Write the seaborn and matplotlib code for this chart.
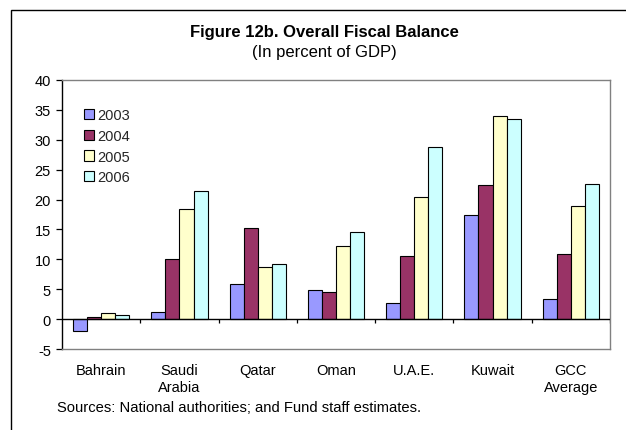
import matplotlib
matplotlib.use("Agg")
import matplotlib.pyplot as plt
from matplotlib.patches import Rectangle
import seaborn as sns
import pandas as pd

# Overall fiscal balance, percent of GDP
countries = ["Bahrain", "Saudi\nArabia", "Qatar", "Oman", "U.A.E.", "Kuwait", "GCC\nAverage"]
years = ["2003", "2004", "2005", "2006"]
bal_2003 = [-2.0, 1.2, 5.9, 4.8, 2.7, 17.5, 3.4]
bal_2004 = [0.4, 10.1, 15.2, 4.6, 10.6, 22.4, 10.9]
bal_2005 = [1.1, 18.4, 8.7, 12.2, 20.4, 33.9, 19.0]
bal_2006 = [0.7, 21.4, 9.2, 14.5, 28.8, 33.4, 22.6]
colors = ["#9999FF", "#993366", "#FFFFCC", "#CCFFFF"]

rows = []
for yr, vals in zip(years, [bal_2003, bal_2004, bal_2005, bal_2006]):
    for c, v in zip(countries, vals):
        rows.append({"country": c, "year": yr, "balance": v})
df = pd.DataFrame(rows)

sns.set_theme(style="white")
plt.rcParams["font.family"] = ["Liberation Sans", "DejaVu Sans"]
plt.rcParams["axes.unicode_minus"] = False

W, H = 626, 431
fig = plt.figure(figsize=(W / 100, H / 100), dpi=100)
ax = fig.add_axes([62 / W, 1 - 350 / H, (610 - 62) / W, (350 - 81) / H])

sns.barplot(data=df, x="country", y="balance", hue="year", order=countries,
            hue_order=years, palette=colors, width=0.72, saturation=1,
            edgecolor="black", linewidth=0.8, ax=ax, zorder=3)

ax.set_xlim(-0.5, len(countries) - 0.5)
ax.set_ylim(-5, 40)
ax.set_yticks(range(-5, 41, 5))
ax.set_xlabel("")
ax.set_ylabel("")

# Zero line with category separator ticks
ax.axhline(0, color="black", lw=1.0, zorder=4)
ax.vlines([i + 0.5 for i in range(len(countries))], -0.7, 0, color="black",
          lw=0.9, zorder=4)

for side in ["top", "right", "bottom"]:
    ax.spines[side].set_color("#808080")
    ax.spines[side].set_linewidth(1.0)
ax.spines["left"].set_color("black")
ax.spines["left"].set_linewidth(1.0)

ax.tick_params(axis="y", which="both", left=True, length=4, width=0.9,
               color="black", pad=4, labelsize=10.5, labelcolor="black")
ax.tick_params(axis="x", length=0, pad=10, labelsize=10.5, labelcolor="black")
for lbl in ax.get_xticklabels():
    lbl.set_linespacing(1.25)
ax.grid(False)

leg = ax.legend(loc="upper left", bbox_to_anchor=(0.04, 0.895), frameon=False,
                fontsize=10.5, handlelength=0.7, handleheight=0.7,
                handletextpad=0.2, labelspacing=0.46, borderaxespad=0,
                borderpad=0)
for h in leg.legend_handles:
    h.set_edgecolor("black")
    h.set_linewidth(0.8)

fig.text(324 / W, 1 - 33 / H, "Figure 12b. Overall Fiscal Balance", ha="center",
         va="center", fontsize=12, fontweight="bold", color="black")
fig.text(324 / W, 1 - 52 / H, "(In percent of GDP)", ha="center", va="center",
         fontsize=12, color="black")
fig.text(57 / W, 1 - 408 / H, "Sources: National authorities; and Fund staff estimates.",
         ha="left", va="center", fontsize=10.6, color="black")

# Outer frame around the figure panel
fig.patches.append(Rectangle((11 / W, -0.1), 1.2, 1 - 11 / H + 0.1,
                             transform=fig.transFigure, fill=False,
                             edgecolor="black", lw=1.0))

fig.savefig("out.png", dpi=100, facecolor="white")
